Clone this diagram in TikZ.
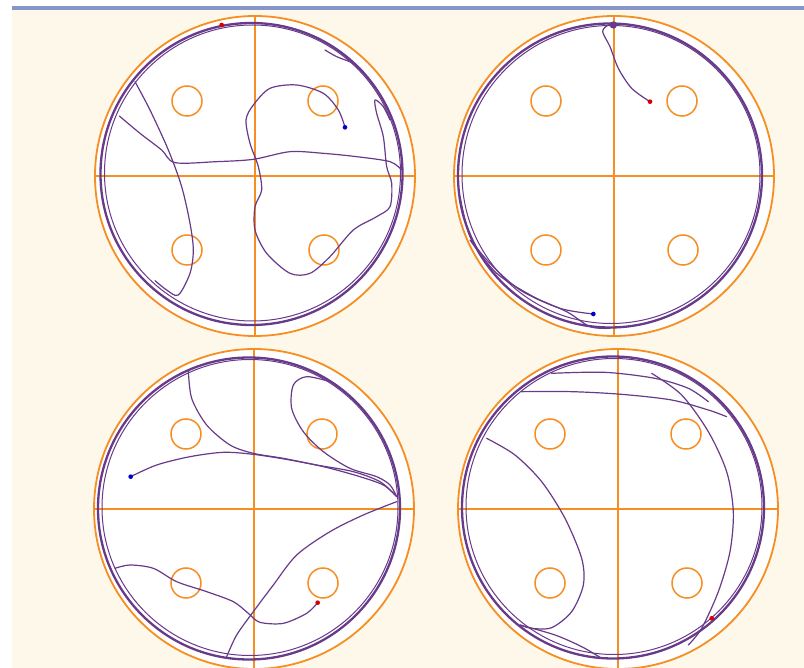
\documentclass[tikz,border=0pt]{standalone}
\usetikzlibrary{calc}
\definecolor{creambg}{RGB}{253,248,234}
\definecolor{barblue}{RGB}{135,150,200}
\definecolor{rimorange}{RGB}{246,142,34}
\definecolor{trackpurple}{RGB}{104,58,138}
\tikzset{
  pool rim/.style={draw=rimorange, line width=1.8pt},
  quad line/.style={draw=rimorange, line width=1.5pt},
  platform ring/.style={draw=rimorange, line width=1.5pt},
  pool wall/.style={draw=trackpurple, line width=2.3pt},
  swim path/.style={draw=trackpurple, line width=1.2pt, line cap=round, line join=round},
  start dot/.style={fill=red!85!black},
  end dot/.style={fill=blue!80!black},
}

\begin{document}
\begin{tikzpicture}[x=1pt,y=-1pt]
  \useasboundingbox (0,0) rectangle (804,668);
  \fill[white] (0,0) rectangle (804,668);
  \fill[creambg] (12,10) rectangle (804,668);
  \fill[barblue] (12,6) rectangle (804,10);

  % pools: rim, quadrant lines, platforms
  \foreach \name/\cx/\cy in {tl/255/176, tr/614/176, bl/254/509, br/618/509} {
    \coordinate (\name) at (\cx,\cy);
    \fill[white] (\name) circle[radius=160pt];
    \draw[pool rim] (\name) circle[radius=160pt];
    \draw[quad line] ($(\name)+(-160,0)$) -- ($(\name)+(160,0)$);
    \draw[quad line] ($(\name)+(0,-160)$) -- ($(\name)+(0,160)$);
    \draw[quad line] ($(\name)+(-160,-5)$) -- ($(\name)+(-160,5)$);
    \draw[quad line] ($(\name)+(160,-5)$) -- ($(\name)+(160,5)$);
    \draw[quad line] ($(\name)+(-6,-160)$) -- ($(\name)+(6,-160)$);
    \foreach \dx/\dy in {-68/-75, 68/-75, -68/74, 69/74}
      \draw[platform ring] ($(\name)+(\dx,\dy)$) circle[radius=15pt];
  }

  % wall hugging
  \foreach \wall/\wx/\wy/\wr in {tlw/251.5/174/151, trw/610/175.5/152, blw/249/508.5/151, brw/613/507.5/151} {
    \coordinate (\wall) at (\wx,\wy);
    \draw[pool wall] (\wall) circle[radius=\wr pt];
    \draw[swim path, line width=1pt] ($(\wall)+(1,-1)$) circle[radius=\wr pt - 3pt];
  }

  % top left trial
  \begin{scope}[shift={(90,10)}, scale=1/3]
    \draw[swim path] plot[smooth] coordinates {(135,215) (180,300) (235,420) (275,530) (300,640) (310,720) (300,790) (265,855) (230,840) (195,812)};
    \draw[swim path] plot[smooth] coordinates {(88,318) (150,370) (215,420) (255,458) (380,455) (490,448) (600,425) (700,430) (800,440) (900,455) (935,480)};
    \draw[swim path] plot[smooth] coordinates {(765,352) (745,300) (700,250) (620,225) (540,235) (490,285) (468,330) (480,400) (505,470) (515,540) (495,590) (495,660) (530,730) (600,790) (660,790) (720,740) (790,660) (860,620) (900,590) (905,520) (890,470) (880,380) (860,310) (855,270) (880,290) (900,330)};
    \draw[swim path] plot[smooth] coordinates {(705,120) (740,140) (790,160) (820,185)};
    \fill[start dot] (395,45) circle[radius=7pt];
    \fill[end dot] (765,352) circle[radius=7pt];
  \end{scope}

  % top right trial
  \begin{scope}[shift={(450,10)}, scale=1/3]
    \draw[swim path] plot[smooth] coordinates {(600,275) (545,235) (505,175) (480,110) (458,65) (475,45) (500,42)};
    \draw[swim path] plot[smooth] coordinates {(430,912) (330,895) (210,840) (120,760) (60,680) (30,560)};
    \draw[swim path] plot[smooth] coordinates {(60,690) (140,790) (250,860) (350,905) (420,950) (480,955)};
    \fill[trackpurple] (490,45) circle[radius=11pt];
    \fill[start dot] (600,275) circle[radius=7pt];
    \fill[end dot] (430,912) circle[radius=7pt];
  \end{scope}

  % bottom left trial
  \begin{scope}[shift={(90,345)}, scale=1/3]
    \draw[swim path] plot[smooth] coordinates {(122,395) (200,360) (300,335) (400,322) (490,328) (600,345) (700,365) (800,392) (880,420) (920,455)};
    \draw[swim path] plot[smooth] coordinates {(295,75) (305,160) (350,240) (420,300) (490,325) (580,340) (680,360) (790,380) (870,410) (915,450)};
    \draw[swim path] plot[smooth] coordinates {(720,110) (650,95) (610,120) (605,190) (640,260) (700,320) (780,370) (860,395) (900,420) (920,455)};
    \draw[swim path] plot[smooth] coordinates {(920,470) (820,510) (720,560) (620,630) (550,720) (490,800) (440,870) (410,935)};
    \draw[swim path] plot[smooth] coordinates {(75,670) (120,660) (190,670) (260,710) (350,740) (430,770) (475,805) (510,832) (580,835) (650,805) (683,773)};
    \fill[start dot] (683,773) circle[radius=7pt];
    \fill[end dot] (122,395) circle[radius=7pt];
  \end{scope}

  % bottom right trial
  \begin{scope}[shift={(455,345)}, scale=1/3]
    \draw[swim path] plot[smooth] coordinates {(200,140) (350,140) (500,148) (650,165) (760,195) (815,215)};
    \draw[swim path] plot[smooth] coordinates {(290,85) (450,82) (600,100) (700,130) (760,170)};
    \draw[swim path] plot[smooth] coordinates {(590,85) (680,150) (760,260) (815,380) (835,500) (825,620) (790,740) (740,850) (700,900)};
    \draw[swim path] plot[smooth] coordinates {(95,280) (180,330) (260,410) (330,520) (380,640) (385,720) (350,800) (290,848) (230,850) (195,840)};
    \draw[swim path] plot[smooth] coordinates {(195,840) (300,870) (380,905) (440,940)};
    \fill[start dot] (770,820) circle[radius=7pt];
  \end{scope}
\end{tikzpicture}
\end{document}
